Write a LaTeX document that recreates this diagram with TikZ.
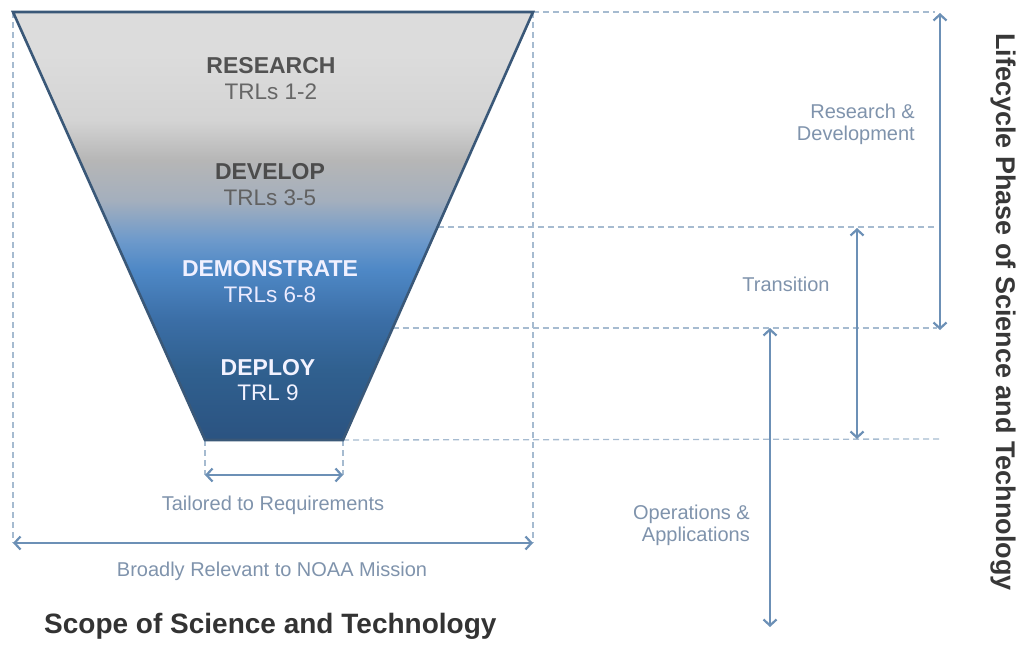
\documentclass[tikz,border=0pt]{standalone}
\usepackage{fontspec}
\setmainfont{Liberation Sans}
\usetikzlibrary{arrows.meta}
\definecolor{fdark}{HTML}{3A5878}
\definecolor{dashc}{HTML}{A6BBD0}
\definecolor{arrc}{HTML}{6C90B6}
\definecolor{lblc}{HTML}{7F93AC}
\definecolor{g1}{HTML}{DCDCDC}
\definecolor{g2}{HTML}{D4D4D4}
\definecolor{g3}{HTML}{B6B6B6}
\definecolor{g4}{HTML}{A4AFBD}
\definecolor{b1}{HTML}{6E9ACB}
\definecolor{b2}{HTML}{4E88C6}
\definecolor{b3}{HTML}{3B6EA6}
\definecolor{b4}{HTML}{30608F}
\definecolor{b5}{HTML}{2B5381}
\pgfdeclareverticalshading{funnelshade}{100bp}{color(0bp)=(b5); color(25bp)=(b5); color(33.2bp)=(b4); color(39bp)=(b3); color(44.9bp)=(b2); color(48.4bp)=(b1); color(53bp)=(g4); color(57.7bp)=(g3); color(62.4bp)=(g2); color(70bp)=(g1); color(100bp)=(g1)}
\tikzset{
  funnelline/.style={draw=fdark, line width=2.6pt, line join=miter},
  dashline/.style={draw=dashc, line width=1.3pt, dash pattern=on 6pt off 4pt},
  arr/.style={draw=arrc, line width=2.2pt, {Straight Barb[length=6pt,width=13pt]}-{Straight Barb[length=6pt,width=13pt]}},
  bigword/.style={font=\fontsize{23}{26}\selectfont\bfseries, inner sep=0pt},
  smallword/.style={font=\fontsize{22.5}{26}\selectfont, inner sep=0pt},
  lbl/.style={font=\fontsize{20}{22}\selectfont, text=lblc, inner sep=0pt},
}
\begin{document}
\begin{tikzpicture}[x=1pt,y=-1pt]
\useasboundingbox (0,0) rectangle (1023,647);
% key points
\coordinate (TL) at (13,12);
\coordinate (TR) at (533,12);
\coordinate (BL) at (205,440);
\coordinate (BR) at (343,440);
\coordinate (LA) at (13,543);
\coordinate (RA) at (533,543);
\coordinate (E1) at (437.6,227);
\coordinate (E2) at (392.7,328);
\coordinate (D0) at (935,12);
\coordinate (D1) at (937,227);
\coordinate (D2) at (937,328);
\coordinate (D3) at (940,439);
\coordinate (BLd) at (205,475);
\coordinate (BRd) at (343,475);
\coordinate (RDt) at (940,13);
\coordinate (RDb) at (940,330);
\coordinate (TRt) at (857,228);
\coordinate (TRb) at (857,439);
\coordinate (OPt) at (770,328);
\coordinate (OPb) at (770,627);
% dashed guide lines
\draw[dashline] (TL) -- (LA);
\draw[dashline] (TR) -- (RA);
\draw[dashline] (TR) -- (D0);
\draw[dashline] (E1) -- (D1);
\draw[dashline] (E2) -- (D2);
\draw[dashline] (BR) -- (D3);
\draw[dashline] (BL) -- (BLd);
\draw[dashline] (BR) -- (BRd);
% funnel
\path[shading=funnelshade] (TL) -- (TR) -- (BR) -- (BL) -- cycle;
\draw[funnelline] (TL) -- (TR) -- (BR) -- (BL) -- cycle;
% funnel texts
\node[bigword, text=black!68] (res) at (271,66) {RESEARCH};
\node[smallword, text=black!60] (res2) at (271,92) {TRLs 1-2};
\node[bigword, text=black!70] (dev) at (270,172) {DEVELOP};
\node[smallword, text=black!62] (dev2) at (270,198) {TRLs 3-5};
\node[bigword, text=white!94!blue] (dem) at (270,269) {DEMONSTRATE};
\node[smallword, text=white!92!blue] (dem2) at (270,295) {TRLs 6-8};
\node[bigword, text=white!95!blue] (dep) at (268,368) {DEPLOY};
\node[smallword, text=white!95!blue] (dep2) at (268,393) {TRL 9};
% arrows
\draw[arr] (BLd) -- (BRd);
\draw[arr] (LA) -- (RA);
\draw[arr] (RDt) -- (RDb);
\draw[arr] (TRt) -- (TRb);
\draw[arr] (OPt) -- (OPb);
% labels
\node[lbl] (tail) at (273,505) {Tailored to Requirements};
\node[lbl] (broad) at (272,571) {Broadly Relevant to NOAA Mission};
\node[lbl, anchor=east, align=right] (rd) at (915,124) {Research \&\\Development};
\node[lbl] (tr) at (786,284) {Transition};
\node[lbl, anchor=east, align=right] (op) at (750,525) {Operations \&\\Applications};
\node[font=\fontsize{28}{30}\selectfont\bfseries, text=black!80, inner sep=0pt, anchor=base west] (scope) at (44,633) {Scope of Science and Technology};
\node[font=\fontsize{27}{29}\selectfont\bfseries, text=black!78, inner sep=0pt, rotate=-90] (life) at (1003,312) {Lifecycle Phase of Science and Technology};
\end{tikzpicture}
\end{document}
